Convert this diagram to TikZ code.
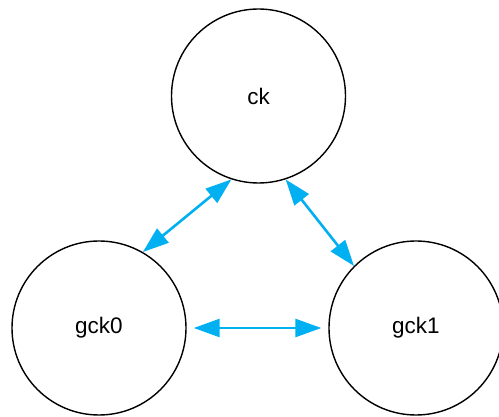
\documentclass[tikz,border=0pt]{standalone}
\usepackage{fontspec}
\setmainfont{Liberation Sans}
\usetikzlibrary{arrows.meta}
\definecolor{linkblue}{HTML}{00B0F0}
\tikzset{
  state/.style={circle, draw=black, line width=1.4pt, minimum size=174pt, inner sep=0pt, font=\fontsize{22.5}{27}\selectfont},
  link/.style={draw=linkblue, line width=2.6pt, {Triangle[length=26pt,width=18pt]}-{Triangle[length=26pt,width=18pt]}}
}
\begin{document}
\begin{tikzpicture}[x=1pt,y=-1pt]
  \useasboundingbox (0,0) rectangle (499,417);
  \node[state] (ck)   at (258.5,96) {ck};
  \node[state] (gck0) at (99,328)   {gck0};
  \node[state] (gck1) at (416,328)  {gck1};
  \draw[link] (ck.252) -- (gck0.60);
  \draw[link] (ck.288) -- (gck1.135);
  \draw[link, shorten <=7pt, shorten >=7pt] (gck0.east) -- (gck1.west);
\end{tikzpicture}
\end{document}
